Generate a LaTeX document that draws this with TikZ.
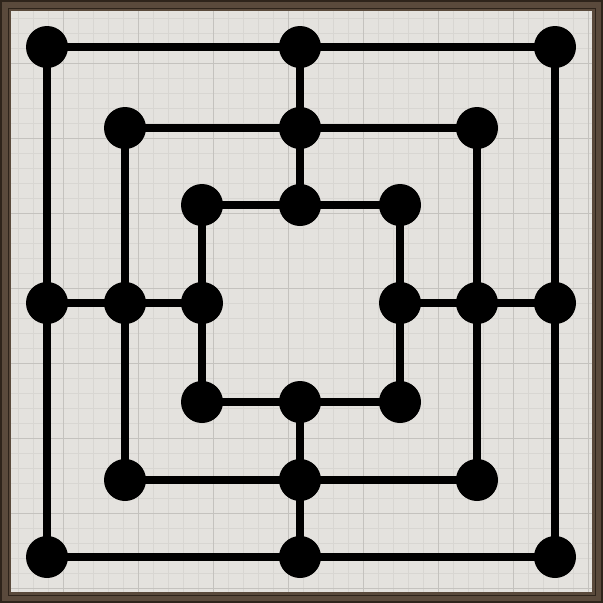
\documentclass[tikz,border=0pt]{standalone}
\definecolor{framebrown}{HTML}{5A4A3C}
\definecolor{framedark}{HTML}{2E241B}
\definecolor{boardbg}{HTML}{E4E2DE}
\definecolor{minorgrid}{HTML}{D8D6D2}
\definecolor{majorgrid}{HTML}{C4C2BE}
\pgfdeclarelayer{bg}
\pgfdeclarelayer{lines}
\pgfsetlayers{bg,lines,main}
\tikzset{
  pt/.style={circle, fill=black, minimum size=42pt, inner sep=0pt},
  boardline/.style={line width=8pt, black},
}
\begin{document}
\begin{tikzpicture}[x=1pt,y=-1pt]
\useasboundingbox (0,0) rectangle (603,603);
\begin{pgfonlayer}{bg}
% frame
\fill[framedark] (0,0) rectangle (603,603);
\fill[framebrown] (2,2) rectangle (601,601);
\draw[framedark, line width=1pt] (8,8) rectangle (595,595);
\fill[boardbg] (11,11) rectangle (592,592);
% grid
\begin{scope}
\clip (11,11) rectangle (592,592);
\foreach \i in {0,...,40} {
  \pgfmathsetmacro{\p}{3+15*\i}
  \draw[minorgrid, line width=0.8pt] (\p,11) -- (\p,592);
  \draw[minorgrid, line width=0.8pt] (11,\p) -- (592,\p);
}
\foreach \i in {0,...,8} {
  \pgfmathsetmacro{\p}{63+75*\i}
  \draw[majorgrid, line width=0.8pt] (\p,11) -- (\p,592);
  \draw[majorgrid, line width=0.8pt] (11,\p) -- (592,\p);
}
\end{scope}
\end{pgfonlayer}
% nodes
\node[pt] (a1) at (47,47) {};
\node[pt] (a2) at (300,47) {};
\node[pt] (a3) at (555,47) {};
\node[pt] (b1) at (125,128) {};
\node[pt] (b2) at (300,128) {};
\node[pt] (b3) at (477,128) {};
\node[pt] (c1) at (202,205) {};
\node[pt] (c2) at (300,205) {};
\node[pt] (c3) at (400,205) {};
\node[pt] (m1) at (47,303) {};
\node[pt] (m2) at (125,303) {};
\node[pt] (m3) at (202,303) {};
\node[pt] (m4) at (400,303) {};
\node[pt] (m5) at (477,303) {};
\node[pt] (m6) at (555,303) {};
\node[pt] (g1) at (202,402) {};
\node[pt] (g2) at (300,402) {};
\node[pt] (g3) at (400,402) {};
\node[pt] (h1) at (125,480) {};
\node[pt] (h2) at (300,480) {};
\node[pt] (h3) at (477,480) {};
\node[pt] (d1) at (47,557) {};
\node[pt] (d2) at (300,557) {};
\node[pt] (d3) at (555,557) {};
% lines
\begin{pgfonlayer}{lines}
\draw[boardline] (a1.center) -- (a2.center) -- (a3.center) -- (m6.center) -- (d3.center) -- (d2.center) -- (d1.center) -- (m1.center) -- cycle;
\draw[boardline] (b1.center) -- (b2.center) -- (b3.center) -- (m5.center) -- (h3.center) -- (h2.center) -- (h1.center) -- (m2.center) -- cycle;
\draw[boardline] (c1.center) -- (c2.center) -- (c3.center) -- (m4.center) -- (g3.center) -- (g2.center) -- (g1.center) -- (m3.center) -- cycle;
\draw[boardline] (a2.center) -- (b2.center) -- (c2.center);
\draw[boardline] (g2.center) -- (h2.center) -- (d2.center);
\draw[boardline] (m1.center) -- (m2.center) -- (m3.center);
\draw[boardline] (m4.center) -- (m5.center) -- (m6.center);
\end{pgfonlayer}
\end{tikzpicture}
\end{document}
